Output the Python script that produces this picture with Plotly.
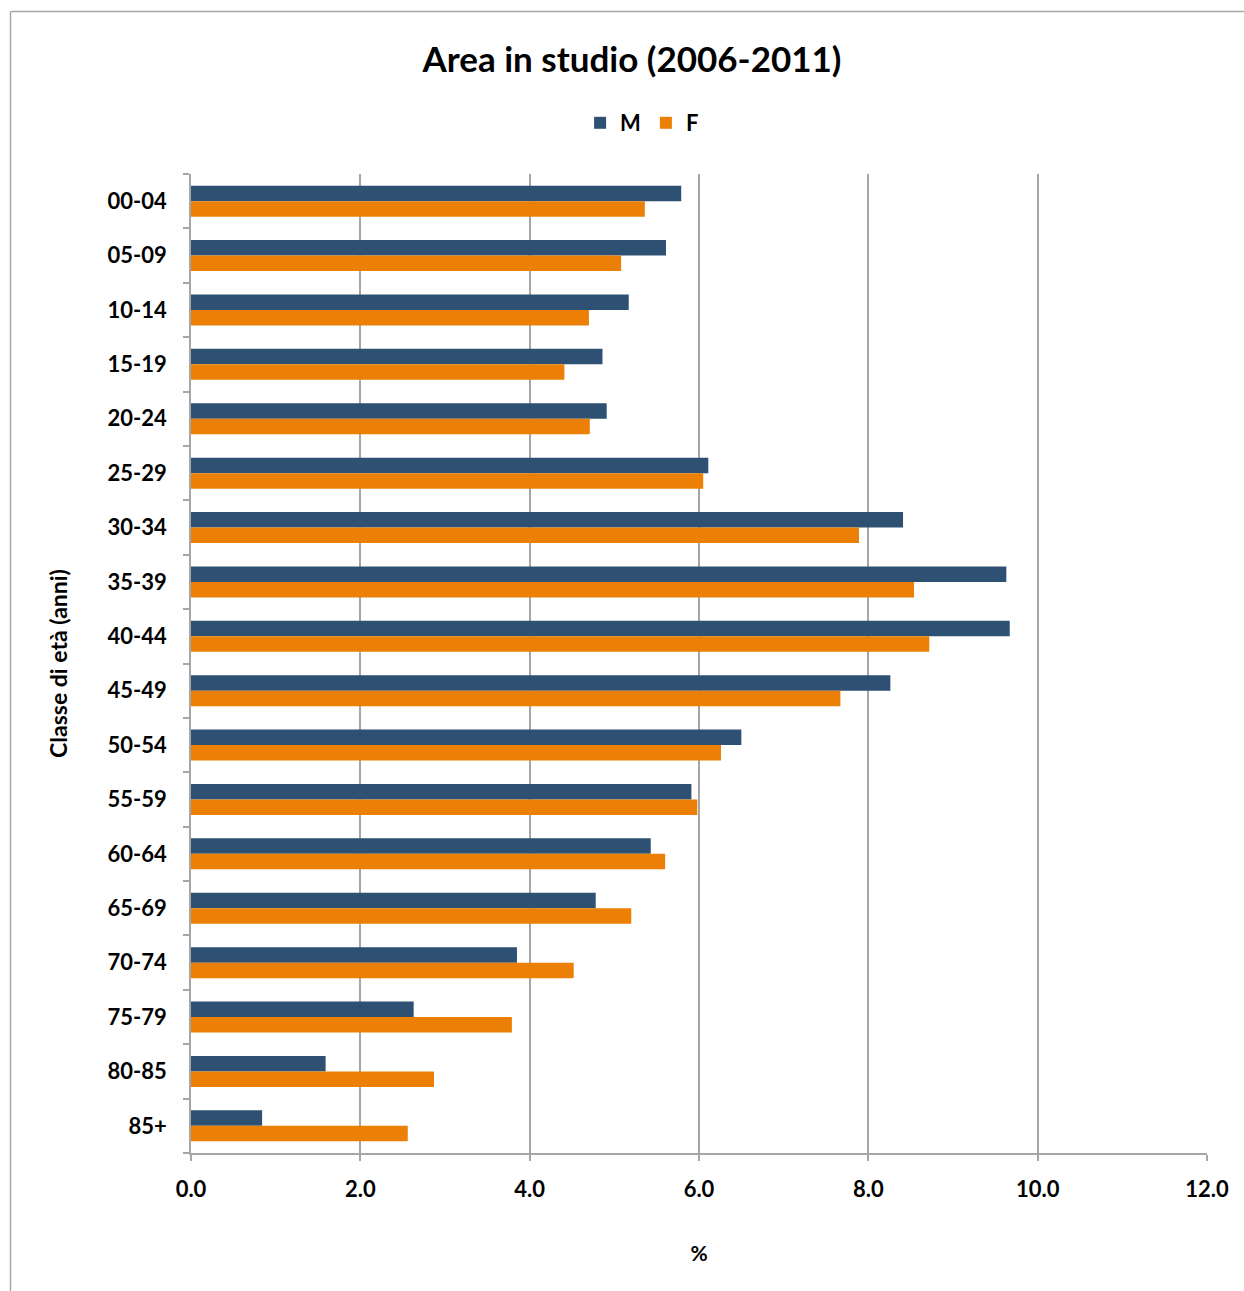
import plotly.graph_objects as go

categories = ["00-04", "05-09", "10-14", "15-19", "20-24", "25-29", "30-34", "35-39",
              "40-44", "45-49", "50-54", "55-59", "60-64", "65-69", "70-74", "75-79",
              "80-85", "85+"]
m_values = [5.79, 5.61, 5.17, 4.86, 4.91, 6.11, 8.41, 9.63, 9.67, 8.26, 6.50, 5.91,
            5.43, 4.78, 3.85, 2.63, 1.59, 0.84]
f_values = [5.36, 5.08, 4.70, 4.41, 4.71, 6.05, 7.89, 8.54, 8.72, 7.67, 6.26, 5.98,
            5.60, 5.20, 4.52, 3.79, 2.87, 2.56]
x_ticks = [0, 2, 4, 6, 8, 10, 12]
x_tick_labels = ["0.0", "2.0", "4.0", "6.0", "8.0", "10.0", "12.0"]

FONT = "Lato"
W, H = 1244, 1291
L, R, T, B = 191, 37, 174, 138
pw, ph = W - L - R, H - T - B

fig = go.Figure()
fig.add_trace(go.Bar(y=categories, x=m_values, name="<b>M</b>", orientation="h",
                     marker=dict(color="#2E5073", line=dict(width=0))))
fig.add_trace(go.Bar(y=categories, x=f_values, name="<b>F</b>", orientation="h",
                     marker=dict(color="#EC7F06", line=dict(width=0))))

def px_x(x):
    return (x - L) / pw

def px_y(y):
    return (H - B - y) / ph

fig.update_layout(
    width=W, height=H,
    margin=dict(l=L, r=R, t=T, b=B),
    paper_bgcolor="white", plot_bgcolor="white",
    barmode="group", bargap=0.43, bargroupgap=0.0,
    title=dict(text="<b>Area in studio (2006-2011)</b>", x=0.508, xanchor="center",
               y=1 - 60 / H, yanchor="middle",
               font=dict(family=FONT, size=35, color="#000000")),
    legend=dict(orientation="h", x=0.444, xanchor="center", y=px_y(123), yanchor="middle",
                font=dict(family=FONT, size=22, color="#000000"),
                itemwidth=30, tracegroupgap=0, traceorder="normal"),
    showlegend=True,
    font=dict(family=FONT, color="#000000"),
    xaxis=dict(range=[0, 12], tickvals=x_ticks, ticktext=["<b>%s</b>" % t for t in x_tick_labels],
               showgrid=True, gridcolor="#A6A6A6", gridwidth=1.5,
               showline=True, linecolor="#A6A6A6", linewidth=1.5,
               ticks="outside", ticklen=6, tickcolor="#A6A6A6", tickwidth=1.5,
               tickfont=dict(family=FONT, size=22, color="#000000"),
               ticklabelstandoff=10,
               title=dict(text="<b>%</b>", font=dict(family=FONT, size=21, color="#000000"),
                          standoff=45),
               zeroline=False, fixedrange=True),
    yaxis=dict(autorange="reversed", type="category",
               tickvals=categories, ticktext=["<b>%s</b>" % c for c in categories],
               showline=True, linecolor="#A6A6A6", linewidth=1.5,
               ticks="outside", ticklen=6, tickcolor="#A6A6A6", tickwidth=1.5,
               tickson="boundaries", showgrid=False,
               tickfont=dict(family=FONT, size=22, color="#000000"),
               ticklabelstandoff=18,
               title=dict(text="<b>Classe di età (anni)</b>",
                          font=dict(family=FONT, size=23, color="#000000"), standoff=34),
               fixedrange=True),
)

# outer frame (left & top edges visible in the reference)
fig.add_shape(type="line", xref="paper", yref="paper",
              x0=px_x(10.5), x1=px_x(10.5), y0=px_y(11.5), y1=px_y(1291),
              line=dict(color="#A6A6A6", width=1.5))
fig.add_shape(type="line", xref="paper", yref="paper",
              x0=px_x(10.5), x1=px_x(1244), y0=px_y(11.5), y1=px_y(11.5),
              line=dict(color="#A6A6A6", width=1.5))

fig.write_html("out.html", config={"displayModeBar": False},
               post_script="document.body.style.margin='0';document.body.style.overflow='hidden';")
